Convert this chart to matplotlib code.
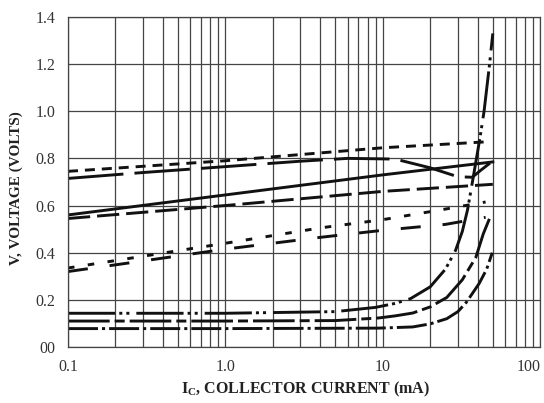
import matplotlib as mpl
mpl.use("Agg")
import matplotlib.pyplot as plt
from matplotlib.ticker import LogLocator, FixedLocator, NullFormatter
import numpy as np

plt.rcParams['font.family'] = ['Liberation Serif', 'DejaVu Serif']
plt.rcParams['mathtext.fontset'] = 'custom'
plt.rcParams['mathtext.rm'] = 'Liberation Serif'
plt.rcParams['mathtext.bf'] = 'Liberation Serif:bold'
plt.rcParams['lines.scale_dashes'] = False

# collector current (mA) and voltage readings for each curve
ic_a = [0.1, 1, 10, 45]
v_a = [0.745, 0.79, 0.845, 0.87]

ic_b = [0.1, 0.3, 1, 3, 6, 12, 20, 30, 37, 42, 48]
v_b = [0.715, 0.74, 0.765, 0.788, 0.80, 0.797, 0.76, 0.722, 0.72, 0.75, 0.78]

ic_c = [0.1, 1, 10, 50]
v_c = [0.56, 0.645, 0.73, 0.785]

ic_d = [0.1, 1, 10, 50]
v_d = [0.545, 0.60, 0.66, 0.69]

ic_e = [0.1, 0.3, 1, 4, 10, 25, 45]
v_e = [0.335, 0.385, 0.44, 0.505, 0.54, 0.585, 0.615]

ic_f = [0.1, 0.3, 1, 4, 10, 25, 45]
v_f = [0.32, 0.365, 0.415, 0.465, 0.495, 0.52, 0.55]

ic_g = [0.1, 1, 5, 9, 12, 15, 20, 25, 29, 32, 34.5, 36, 38, 41.5, 44, 47.5, 50]
v_g = [0.143, 0.143, 0.15, 0.168, 0.185, 0.205, 0.255, 0.33, 0.41, 0.49, 0.58, 0.65,
       0.74, 0.89, 1.0, 1.19, 1.33]

ic_h = [0.1, 1, 5, 9.4, 12, 15.5, 20, 25.5, 32, 39, 43.5, 48]
v_h = [0.11, 0.11, 0.112, 0.123, 0.132, 0.144, 0.17, 0.21, 0.285, 0.38, 0.48, 0.55]

ic_i = [0.1, 1, 9.4, 15.5, 20, 25.5, 30, 34, 41, 45.7, 49.6]
v_i = [0.078, 0.078, 0.08, 0.085, 0.098, 0.12, 0.15, 0.19, 0.27, 0.33, 0.40]

x_ticks = [0.1, 1, 10, 100]
x_labels = ["0.1", "1.0", "10", "100"]
y_ticks = [0, 0.2, 0.4, 0.6, 0.8, 1.0, 1.2, 1.4]
y_labels = ["00", "0.2", "0.4", "0.6", "0.8", "1.0", "1.2", "1.4"]

fig = plt.figure(figsize=(5.44, 4.03), dpi=100)
ax = fig.add_axes([0.125, 0.139, 0.868, 0.819])

lw = 2.1
ax.plot(ic_a, v_a, color='#111', lw=lw, dashes=(7.2, 5))
ax.plot(ic_b, v_b, color='#111', lw=lw, dashes=(40, 8))
ax.plot(ic_c, v_c, color='#111', lw=lw)
ax.plot(ic_d, v_d, color='#111', lw=lw, dashes=(16, 5))
ax.plot(ic_e, v_e, color='#111', lw=lw, dashes=(4.7, 9.7))
ax.plot(ic_f, v_f, color='#111', lw=lw, dashes=(14.4, 15.8))
ax.plot(ic_g, v_g, color='#111', lw=lw, dashes=(34, 2.9, 2.2, 2.9, 2.2, 5))
ax.plot(ic_h, v_h, color='#111', lw=lw, dashes=(30, 3.6, 7.2, 3.6))
ax.plot(ic_i, v_i, color='#111', lw=lw, dashes=(21.6, 2.9, 2.2, 2.9))

ax.set_xscale('log')
ax.set_xlim(0.1, 100)
ax.set_ylim(0, 1.4)
ax.xaxis.set_major_locator(FixedLocator(x_ticks))
ax.set_xticklabels(x_labels)
ax.xaxis.set_minor_locator(LogLocator(base=10, subs=np.arange(2, 10)))
ax.xaxis.set_minor_formatter(NullFormatter())
ax.set_yticks(y_ticks)
ax.set_yticklabels(y_labels)
ax.tick_params(which='both', length=0, labelsize=11.5, colors='#333')
ax.tick_params(axis='x', pad=9)
ax.tick_params(axis='y', pad=9)
ax.get_xticklabels()[-1].set_horizontalalignment('right')

ax.grid(True, which='both', axis='x', color='#444', lw=0.9)
ax.grid(True, which='major', axis='y', color='#444', lw=0.9)
for s in ax.spines.values():
    s.set_color('#444')
    s.set_linewidth(0.9)

ax.set_xlabel(r'$\mathbf{I}_{\mathbf{C}}$, COLLECTOR CURRENT (mA)', fontsize=11.5,
              fontweight='bold', color='#222')
ax.xaxis.set_label_coords(0.502, -0.100)
ax.set_ylabel('V, VOLTAGE (VOLTS)', fontsize=11, fontweight='bold', color='#222')
ax.yaxis.set_label_coords(-0.095, 0.48)

plt.savefig("out.png", dpi=100)
